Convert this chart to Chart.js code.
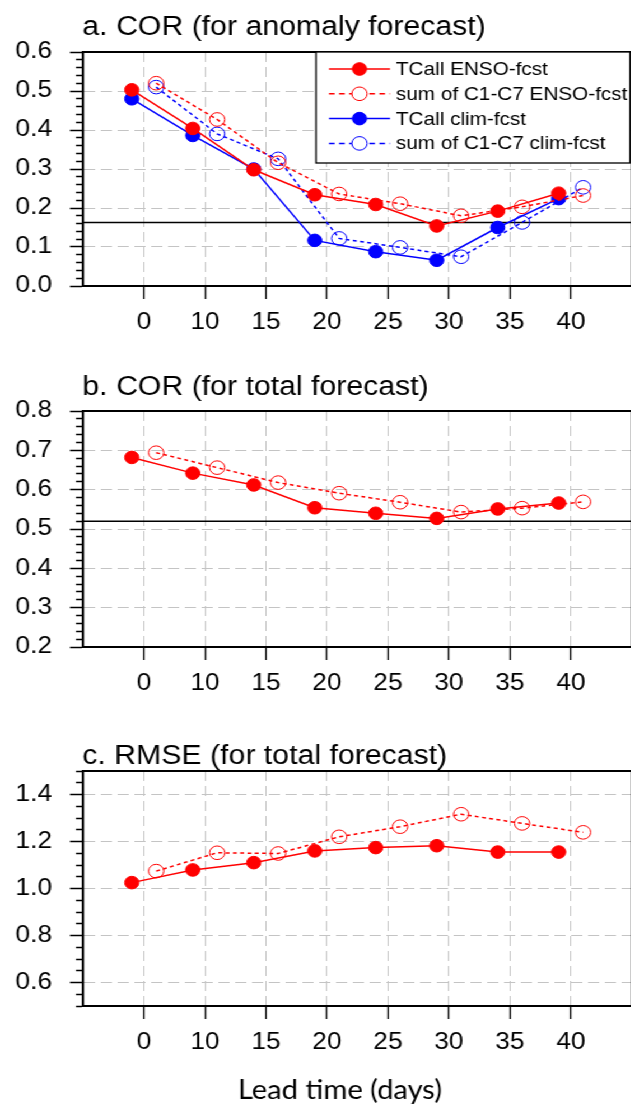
<!DOCTYPE html>
<html>
<head>
<meta charset="utf-8">
<script src="https://cdn.jsdelivr.net/npm/chart.js@4.4.1/dist/chart.umd.min.js"></script>
<style>
html, body { margin: 0; padding: 0; background: #fff; overflow: hidden; width: 631px; height: 1107px; }
/* the original figure is a little stretched sideways, so the whole drawing is too */
#wrap { position: absolute; left: 0; top: 0; width: 572px; height: 1107px; transform: scaleX(1.12); transform-origin: 0 0; }
#wrap canvas { position: absolute; left: 0; }
</style>
</head>
<body>
<div id="wrap">
  <canvas id="panelA" width="572" height="345" style="top:0px"></canvas>
  <canvas id="panelB" width="572" height="365" style="top:345px"></canvas>
  <canvas id="panelC" width="572" height="397" style="top:710px"></canvas>
</div>
<script>
// lead time axis
const leadTicks = [5, 10, 15, 20, 25, 30, 35, 40];
const leadTickLabels = ['0', '10', '15', '20', '25', '30', '35', '40'];
const leadTCall = [4, 9, 14, 19, 24, 29, 34, 39];
const leadSum = [6, 11, 16, 21, 26, 31, 36, 41];

const seriesLabels = ['TCall ENSO-fcst', 'sum of C1-C7 ENSO-fcst', 'TCall clim-fcst', 'sum of C1-C7 clim-fcst'];

// a. COR (for anomaly forecast)
const corAnomTCallENSO = [0.503, 0.404, 0.298, 0.234, 0.209, 0.154, 0.192, 0.238];
const corAnomSumENSO   = [0.520, 0.427, 0.316, 0.236, 0.211, 0.180, 0.203, 0.232];
const corAnomTCallClim = [0.480, 0.386, 0.300, 0.117, 0.088, 0.066, 0.150, 0.224];
const corAnomSumClim   = [0.510, 0.390, 0.326, 0.122, 0.099, 0.075, 0.163, 0.253];
const corAnomRef = 0.163;
const yTicksA = [0.0, 0.1, 0.2, 0.3, 0.4, 0.5, 0.6];

// b. COR (for total forecast)
const corTotTCallENSO = [0.682, 0.642, 0.612, 0.554, 0.540, 0.527, 0.551, 0.566];
const corTotSumENSO   = [0.694, 0.656, 0.618, 0.591, 0.568, 0.543, 0.553, 0.569];
const corTotRef = 0.520;
const yTicksB = [0.2, 0.3, 0.4, 0.5, 0.6, 0.7, 0.8];

// c. RMSE (for total forecast)
const rmseTCallENSO = [1.025, 1.079, 1.110, 1.160, 1.174, 1.182, 1.155, 1.155];
const rmseSumENSO   = [1.074, 1.152, 1.149, 1.220, 1.263, 1.316, 1.277, 1.239];
const yTicksC = [0.6, 0.8, 1.0, 1.2, 1.4];

const S = 1.12;
const FONT = '"Liberation Sans", Arial, sans-serif';
const RED = '#ff0000', BLUE = '#0000ff', GRID = '#c4c4c4';
const xMin = 0, xMax = 45;

function pts(xs, ys) { return ys.map((y, i) => ({x: xs[i], y: y})); }

function tcallSet(label, color, ys) {
  return {label: label, data: pts(leadTCall, ys), borderColor: color, backgroundColor: color,
    borderWidth: 1.5, tension: 0, pointRadius: 6.3, pointBorderWidth: 1,
    pointBackgroundColor: color, pointBorderColor: color};
}
function sumSet(label, color, ys) {
  return {label: label, data: pts(leadSum, ys), borderColor: color, backgroundColor: 'rgba(0,0,0,0)',
    borderWidth: 1.5, borderDash: [3.5, 3], tension: 0, pointRadius: 6.8, pointBorderWidth: 1,
    pointBackgroundColor: 'rgba(0,0,0,0)', pointBorderColor: color};
}
function refSet(y) {
  return {label: '', isRef: true, data: [{x: xMin, y: y}, {x: xMax, y: y}],
    borderColor: '#000', borderWidth: 1.5, pointRadius: 0};
}

function yScale(min, max, majors, minorStep) {
  const isMajor = v => majors.some(m => Math.abs(m - v) < 1e-6);
  const vals = [];
  for (let v = min; v <= max + 1e-9; v += minorStep) vals.push(+v.toFixed(4));
  return {
    type: 'linear', min: min, max: max,
    afterBuildTicks: sc => { sc.ticks = vals.map(value => ({value: value})); },
    afterFit: sc => { sc.width = 83 / S; },
    ticks: {autoSkip: false, padding: 16, color: '#000', font: {family: FONT, size: 23.5},
      callback: v => isMajor(v) ? v.toFixed(1) : ''},
    grid: {
      color: c => (c.tick && isMajor(c.tick.value)) ? GRID : 'rgba(0,0,0,0)',
      lineWidth: 1, tickLength: 13 / S, tickColor: '#000', tickWidth: 1.5,
      tickBorderDash: c => (c.tick && isMajor(c.tick.value)) ? [] : [0, 6 / S, 7 / S, 0]
    },
    border: {color: '#000', width: 2, dash: [10, 5]}
  };
}

function xScale(height) {
  return {
    type: 'linear', min: xMin, max: xMax,
    afterBuildTicks: sc => { sc.ticks = leadTicks.map(value => ({value: value})); },
    afterFit: sc => { sc.height = height; },
    ticks: {autoSkip: false, maxRotation: 0, padding: 9, color: '#000', font: {family: FONT, size: 23.5},
      callback: (v, i) => leadTickLabels[i]},
    grid: {color: GRID, lineWidth: 1, tickLength: 13, tickColor: '#000', tickWidth: 1.5 / S},
    border: {color: '#000', width: 2, dash: [10, 5]}
  };
}

// frame, panel title, legend and axis title
const panelText = {
  id: 'panelText',
  afterDraw(chart, args, o) {
    const ctx = chart.ctx, a = chart.chartArea;
    ctx.save();
    ctx.setLineDash([]);
    ctx.strokeStyle = '#000';
    ctx.lineWidth = 2;
    ctx.strokeRect(a.left, a.top, a.right - a.left, a.bottom - a.top);

    ctx.fillStyle = '#000';
    ctx.font = '27px ' + FONT;
    ctx.textAlign = 'left';
    ctx.textBaseline = 'alphabetic';
    ctx.fillText(o.title, a.left - 0.5, o.titleY);

    if (o.legend) {
      const L = 316 / S, T = a.top, R = 630 / S, B = 163;
      ctx.fillStyle = '#fff';
      ctx.fillRect(L, T, R - L, B - T);
      ctx.lineWidth = 1.3;
      ctx.strokeRect(L, T, R - L, B - T);
      chart.data.datasets.filter(d => !d.isRef).forEach((d, i) => {
        const y = 69 + i * 24.8;
        ctx.save();
        ctx.strokeStyle = d.borderColor;
        ctx.lineWidth = d.borderWidth;
        ctx.setLineDash(d.borderDash ? [5, 4] : []);
        ctx.beginPath();
        ctx.moveTo(329 / S, y);
        ctx.lineTo(390 / S, y);
        ctx.stroke();
        ctx.setLineDash([]);
        ctx.fillStyle = '#fff';
        ctx.beginPath();
        ctx.arc(359.5 / S, y, d.pointRadius, 0, Math.PI * 2);
        ctx.fill();
        ctx.fillStyle = d.pointBackgroundColor;
        ctx.fill();
        ctx.lineWidth = d.pointBorderWidth;
        ctx.strokeStyle = d.pointBorderColor;
        ctx.stroke();
        ctx.fillStyle = '#000';
        ctx.font = '18.5px ' + FONT;
        ctx.textBaseline = 'middle';
        ctx.fillText(d.label, 396 / S, y + 1);
        ctx.restore();
      });
    }

    if (o.xTitle) {
      ctx.fillStyle = '#000';
      ctx.font = '26px Lato, "Open Sans", sans-serif';
      ctx.textAlign = 'center';
      ctx.textBaseline = 'alphabetic';
      ctx.fillText(o.xTitle, 340 / S, o.xTitleY);
    }
    ctx.restore();
  }
};

function panel(id, datasets, y, xHeight, padTop, text) {
  return new Chart(document.getElementById(id), {
    type: 'line',
    data: {datasets: datasets},
    options: {
      responsive: false,
      animation: false,
      devicePixelRatio: 1,
      layout: {padding: {top: padTop, right: 6, bottom: 0, left: 0}},
      scales: {x: xScale(xHeight), y: y},
      plugins: {legend: {display: false}, tooltip: {enabled: false}, panelText: text}
    },
    plugins: [panelText]
  });
}

panel('panelA', [
  tcallSet(seriesLabels[0], RED, corAnomTCallENSO),
  sumSet(seriesLabels[1], RED, corAnomSumENSO),
  tcallSet(seriesLabels[2], BLUE, corAnomTCallClim),
  sumSet(seriesLabels[3], BLUE, corAnomSumClim),
  refSet(corAnomRef)
], yScale(0, 0.6, yTicksA, 0.02), 59, 52,
  {title: 'a. COR (for anomaly forecast)', titleY: 35, legend: true});

panel('panelB', [
  tcallSet(seriesLabels[0], RED, corTotTCallENSO),
  sumSet(seriesLabels[1], RED, corTotSumENSO),
  refSet(corTotRef)
], yScale(0.2, 0.8, yTicksB, 0.02), 63, 66,
  {title: 'b. COR (for total forecast)', titleY: 50});

panel('panelC', [
  tcallSet(seriesLabels[0], RED, rmseTCallENSO),
  sumSet(seriesLabels[1], RED, rmseSumENSO)
], yScale(0.5, 1.5, yTicksC, 0.05), 101, 61,
  {title: 'c. RMSE (for total forecast)', titleY: 54, xTitle: 'Lead time (days)', xTitleY: 389});
</script>
</body>
</html>
